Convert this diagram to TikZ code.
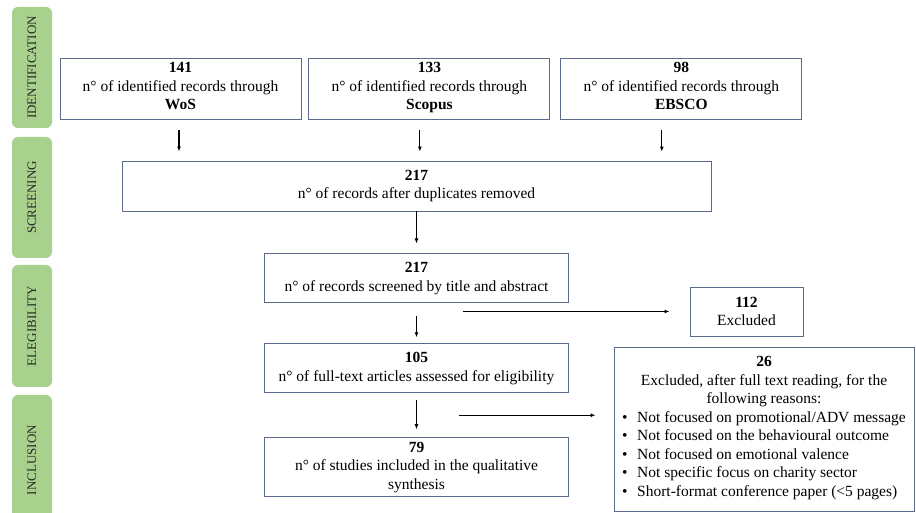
\documentclass[tikz,border=0pt]{standalone}
\usepackage{fontspec}
\setmainfont{Liberation Serif}
\usepackage{tikz}
\usetikzlibrary{arrows.meta, positioning}
\usepackage{xcolor}

\definecolor{barGreen}{RGB}{169,209,142}
\definecolor{boxLine}{RGB}{92,106,140}
\definecolor{barText}{RGB}{40,40,40}
\newcommand{\reason}[1]{\makebox[15pt][l]{•}#1}

\begin{document}
\begin{tikzpicture}[
    x=1pt, y=1pt,
    >=Latex,
    every node/.style={font=\fontsize{15.5}{18.5}\selectfont},
    block/.style={rectangle, draw=boxLine, line width=0.9pt, align=center, inner sep=2pt},
    source/.style={block, minimum width=241pt, minimum height=61pt},
    stage/.style={block, minimum width=304pt, minimum height=49pt},
    phase/.style={rectangle, fill=barGreen, rounded corners=6pt, rotate=90,
                  minimum width=121pt, minimum height=40pt, inner sep=0pt,
                  text=barText, font=\fontsize{13}{15}\selectfont},
    arrow/.style={-{Latex[length=5pt,width=4pt]}, line width=1.1pt}
]
\useasboundingbox (0,0) rectangle (916,513);

% Fasi laterali
\node[phase] (identification) at (32,445.5) {IDENTIFICATION};
\node[phase] (screening) at (32,315.5) {SCREENING};
\node[phase, minimum width=122pt] (eligibility) at (32,187) {ELEGIBILITY};
\node[phase, minimum width=130pt] (inclusion) at (32,53) {INCLUSION};

% Banche dati
\node[source] (wos) at (180.5,424) {\textbf{141}\\n° of identified records through\\\textbf{WoS}\strut};
\node[source, right=7pt of wos] (scopus) {\textbf{133}\\n° of identified records through\\\textbf{Scopus}\strut};
\node[source, right=10pt of scopus] (ebsco) {\textbf{98}\\n° of identified records through\\\textbf{EBSCO}\strut};

% Flusso principale
\node[block, minimum width=589pt, minimum height=50pt] (dup) at (416.5,327) {\textbf{217}\\n° of records after duplicates removed};
\node[stage, below=42pt of dup] (screened) {\textbf{217}\\n° of records screened by title and abstract};
\node[stage, below=40pt of screened] (fulltext) {\textbf{105}\\n° of full-text articles assessed for eligibility};
\node[stage, minimum height=59pt, below=44pt of fulltext] (included) {\textbf{79}\\n° of studies included in the qualitative\\synthesis};

% Esclusi
\node[block, minimum width=113pt, minimum height=49pt] (excl1) at (746.5,201.5) {\textbf{112}\\Excluded};
\node[block, minimum width=300pt, minimum height=164pt] (excl2) at (764,84) {\textbf{26}\\Excluded, after full text reading, for the\\following reasons:\\
    \begin{tabular}[t]{@{}l@{}}
    \reason{Not focused on promotional/ADV message}\\
    \reason{Not focused on the behavioural outcome}\\
    \reason{Not focused on emotional valence}\\
    \reason{Not specific focus on charity sector}\\
    \reason{Short-format conference paper (<5 pages)}
    \end{tabular}};

% Frecce
\draw[arrow, shorten <=10.5pt, shorten >=9pt] ([xshift=-1.5pt]wos.south) -- ([xshift=-1.5pt]wos.south |- dup.north);
\draw[arrow, shorten <=10.5pt, shorten >=9pt] ([xshift=-9.5pt]scopus.south) -- ([xshift=-9.5pt]scopus.south |- dup.north);
\draw[arrow, shorten <=10.5pt, shorten >=9pt] ([xshift=-19.5pt]ebsco.south) -- ([xshift=-19.5pt]ebsco.south |- dup.north);
\draw[arrow, shorten >=10pt] (dup.south) -- (screened.north);
\draw[arrow, shorten <=13pt, shorten >=6pt] (screened.south) -- (fulltext.north);
\draw[arrow, shorten <=7pt, shorten >=8pt] (fulltext.south) -- (included.north);

\coordinate (out1) at ([xshift=46pt]screened.south |- excl1.west);
\draw[arrow, shorten >=20pt] (out1) -- (excl1.west);
\coordinate (out2) at ([xshift=42pt, yshift=-22pt]fulltext.south);
\draw[arrow, shorten >=18pt] (out2) -- (out2 -| excl2.west);

\end{tikzpicture}
\end{document}
